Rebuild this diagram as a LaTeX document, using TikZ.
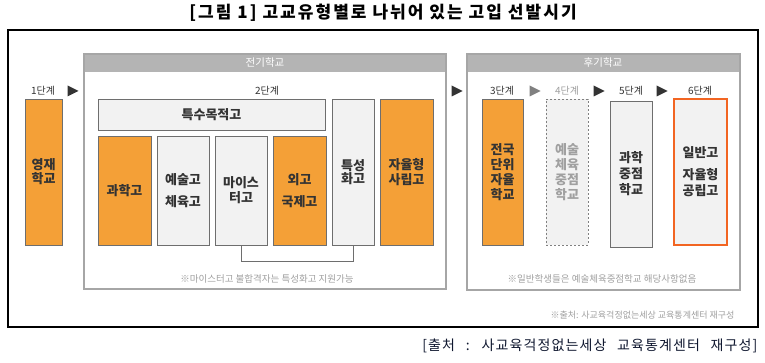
\documentclass[tikz,border=0pt]{standalone}
\usepackage{fontspec}
\setmainfont{Noto Sans CJK KR}
\newfontfamily\captionfont{Noto Sans CJK KR}[LetterSpace=8,WordSpace=2.5]
\definecolor{schorange}{HTML}{F4A037}
\definecolor{boxgrey}{HTML}{F2F2F2}
\definecolor{boxline}{HTML}{6E6E6E}
\definecolor{framegrey}{HTML}{A6A6A6}
\definecolor{headgrey}{HTML}{B4B4B4}
\definecolor{textdark}{HTML}{333333}
\definecolor{notegrey}{HTML}{A0A0A0}
\definecolor{redline}{HTML}{F26522}
\definecolor{captionblue}{HTML}{101830}
\tikzset{
  schoolbox/.style={draw=boxline, line width=0.9pt, inner sep=0pt, align=center,
    text=textdark, font=\bfseries\fontsize{13}{15}\selectfont},
  orangebox/.style={schoolbox, fill=schorange},
  greybox/.style={schoolbox, fill=boxgrey},
  steplabel/.style={font=\fontsize{10}{12}\selectfont, text=textdark},
  headlabel/.style={font=\fontsize{10.5}{12}\selectfont, text=white},
  notelabel/.style={font=\fontsize{9.5}{11}\selectfont, text=notegrey}
}
\begin{document}
\begin{tikzpicture}[x=1pt,y=-1pt]
  \useasboundingbox[fill=white] (0,0) rectangle (765,363);

  \node[font=\bfseries\fontsize{17}{19}\selectfont\addfontfeature{LetterSpace=12}] (title) at (383,13) {[그림 1] 고교유형별로 나뉘어 있는 고입 선발시기};
  \draw[line width=1.2pt] (8,30) rectangle (758,327);

  % early admission
  \draw[draw=framegrey, line width=1.2pt] (84,54) rectangle (446,289);
  \fill[headgrey] (84.6,54.6) rectangle (445.4,72);
  \node[headlabel] (early) at (265,63) {전기학교};

  % late admission
  \draw[draw=framegrey, line width=1.2pt] (467,54) rectangle (740,290);
  \fill[headgrey] (467.6,54.6) rectangle (739.4,72);
  \node[headlabel] (late) at (603,63) {후기학교};

  \node[steplabel] (s1) at (43,91) {1단계};
  \node[steplabel] (s2) at (267,91) {2단계};
  \node[steplabel] (s3) at (502,91) {3단계};
  \node[steplabel, text=notegrey] (s4) at (567,91) {4단계};
  \node[steplabel] (s5) at (631,91) {5단계};
  \node[steplabel] (s6) at (700,91) {6단계};

  \foreach \x in {73,457,599,662}
    \fill[textdark] (\x-5.5,85.5) -- (\x+5.5,91) -- (\x-5.5,96.5) -- cycle;
  \fill[gray] (535-5.5,85.5) -- (535+5.5,91) -- (535-5.5,96.5) -- cycle;

  \node[orangebox, minimum width=37pt, minimum height=146pt, font=\bfseries\fontsize{13}{14}\selectfont] (gifted) at (43.5,172) {영재\\학교};

  \node[greybox, minimum width=227pt, minimum height=31pt] (special) at (211.5,114.5) {특수목적고};
  \node[orangebox, minimum width=53pt, minimum height=109pt] (science) at (124.5,190.5) {과학고};
  \node[greybox, minimum width=52pt, minimum height=109pt] (arts) at (183,190.5) {예술고\\[7pt]체육고};
  \node[greybox, minimum width=52pt, minimum height=109pt] (meister) at (241,190.5) {마이스\\터고};
  \node[orangebox, minimum width=53pt, minimum height=109pt] (foreign) at (299.5,190.5) {외고\\[7pt]국제고};
  \node[greybox, minimum width=42pt, minimum height=146pt, font=\bfseries\fontsize{13}{13}\selectfont] (vocational) at (353,172) {특성\\화고};
  \node[orangebox, minimum width=53pt, minimum height=146pt] (private) at (406.5,172) {자율형\\사립고};
  \draw[draw=boxline, line width=0.9pt] (meister.south) -- +(0,16) -| (vocational.south);
  \node[notelabel] (note1) at (267,279) {※마이스터고 불합격자는 특성화고 지원가능};

  \node[orangebox, minimum width=41pt, minimum height=146pt] (national) at (502.5,172) {전국\\단위\\자율\\학교};
  \node[greybox, draw=gray, dash pattern=on 2pt off 2pt, text=notegrey, minimum width=42pt, minimum height=146pt] (artfocus) at (567,172) {예술\\체육\\중점\\학교};
  \node[greybox, minimum width=42pt, minimum height=146pt, font=\bfseries\fontsize{13}{16}\selectfont] (scifocus) at (631,174) {과학\\중점\\학교};
  \node[greybox, draw=redline, line width=1.6pt, minimum width=53pt, minimum height=146pt, font=\bfseries\fontsize{13}{16}\selectfont] (general) at (700.5,172) {일반고\\[6pt]자율형\\공립고};
  \node[notelabel] (note2) at (602,279) {※일반학생들은 예술체육중점학교 해당사항없음};

  \node[font=\fontsize{9}{11}\selectfont, text=notegrey, anchor=east] (source) at (738,315) {※출처: 사교육걱정없는세상 교육통계센터 재구성};
  \node[font=\captionfont\fontsize{14}{16}\selectfont, text=captionblue, anchor=east] (caption) at (761,346) {[출처 : 사교육걱정없는세상 교육통계센터 재구성]};
\end{tikzpicture}
\end{document}
